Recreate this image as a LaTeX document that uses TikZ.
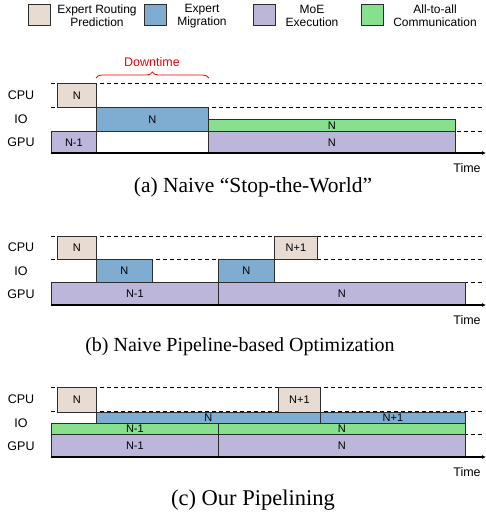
\documentclass[tikz,border=0pt]{standalone}
\usepackage{fontspec}
\setmainfont{Liberation Serif}
\setsansfont{Liberation Sans}
\usetikzlibrary{arrows.meta,decorations.pathreplacing}

\definecolor{routec}{RGB}{231,219,210}
\definecolor{migc}{RGB}{126,173,209}
\definecolor{moec}{RGB}{189,182,219}
\definecolor{a2ac}{RGB}{136,224,142}
\definecolor{edgec}{RGB}{45,45,45}

\tikzset{
  x=1pt, y=-1pt,
  blkbase/.style={draw=edgec, line width=0.8pt, inner sep=0pt, anchor=north west,
    font=\sffamily\fontsize{11}{11}\selectfont},
  route/.style={blkbase, fill=routec},
  mig/.style={blkbase, fill=migc},
  moe/.style={blkbase, fill=moec},
  a2a/.style={blkbase, fill=a2ac},
  idle/.style={blkbase, fill=white},
  legbox/.style={draw=edgec, line width=1pt, anchor=north west, minimum width=22pt, minimum height=21pt, inner sep=0pt},
  legtext/.style={font=\sffamily\fontsize{12}{13}\selectfont, align=center},
  rowlabel/.style={font=\sffamily\fontsize{12.5}{13}\selectfont},
  timelabel/.style={font=\sffamily\fontsize{12.5}{13}\selectfont},
  dashline/.style={dash pattern=on 4pt off 3pt, line width=0.7pt, black},
  axis/.style={line width=1.1pt, black, -{Latex[length=4pt,width=4pt]}},
  caption/.style={font=\fontsize{#1}{22}\selectfont},
  caption/.default=20,
}
% block: style, name, top-left corner, width, height, text
\newcommand\blk[6]{\node[#1, minimum width=#4pt, minimum height=#5pt] (#2) at #3 {#6};}

\begin{document}
\begin{tikzpicture}
\useasboundingbox (0,0) rectangle (485,514);

% ---------------- legend ----------------
\node[legbox, fill=routec] (lg1) at (28,4) {};
\node[legtext] (lt1) at (97,16) {Expert Routing\\Prediction};
\node[legbox, fill=migc] (lg2) at (144,4) {};
\node[legtext] (lt2) at (202,16) {Expert\\Migration};
\node[legbox, fill=moec] (lg3) at (253,4) {};
\node[legtext] (lt3) at (312,16) {MoE\\Execution};
\node[legbox, fill=a2ac] (lg4) at (361,4) {};
\node[legtext] (lt4) at (435,16) {All-to-all\\Communication};

% ---------------- (a) stop-the-world ----------------
\draw[dashline] (51,83) -- (485,83);
\draw[dashline] (51,107) -- (485,107);
\draw[dashline] (51,131) -- (485,131);
\blk{route}{a-cpu}{(57,83)}{39}{24}{N}
\blk{mig}{a-io}{(96,107)}{112}{24}{N}
\blk{moe}{a-gpu0}{(51,131)}{45}{22}{N-1}
\blk{idle}{a-idle}{(96,131)}{112}{22}{}
\blk{a2a}{a-a2a}{(208,119)}{247}{12}{N}
\blk{moe}{a-gpu1}{(208,131)}{247}{22}{N}
\coordinate (a-t0) at (51,153);
\coordinate (a-t1) at (486,153);
\draw[axis] (a-t0) -- (a-t1);
\node[rowlabel] (a-lcpu) at (21,95) {CPU};
\node[rowlabel] (a-lio) at (21,119) {IO};
\node[rowlabel] (a-lgpu) at (21,142) {GPU};
\node[timelabel] (a-time) at (467,168) {Time};
\draw[red, line width=0.8pt, decorate, decoration={brace, amplitude=6pt}]
  (a-io.north west |- 0,78) -- (a-io.north east |- 0,78);
\node[red, font=\sffamily\fontsize{12.5}{13}\selectfont] (a-down) at (152,62) {Downtime};
\node[caption=21.5] (a-cap) at (253,187) {(a) Naive ``Stop-the-World''};

% ---------------- (b) naive pipeline ----------------
\draw[dashline] (51,236) -- (485,236);
\draw[dashline] (51,259) -- (485,259);
\draw[dashline] (51,282) -- (485,282);
\blk{route}{b-cpu0}{(57,236)}{39}{23}{N}
\blk{mig}{b-io0}{(96,259)}{56}{23}{N}
\blk{moe}{b-gpu0}{(51,282)}{167}{23}{N-1}
\blk{mig}{b-io1}{(218,259)}{56}{23}{N}
\blk{route}{b-cpu1}{(274,236)}{43}{23}{N+1}
\blk{moe}{b-gpu1}{(218,282)}{247}{23}{N}
\coordinate (b-t0) at (51,305);
\coordinate (b-t1) at (486,305);
\draw[axis] (b-t0) -- (b-t1);
\node[rowlabel] (b-lcpu) at (21,247) {CPU};
\node[rowlabel] (b-lio) at (21,271) {IO};
\node[rowlabel] (b-lgpu) at (21,294) {GPU};
\node[timelabel] (b-time) at (467,320) {Time};
\node[caption] (b-cap) at (240,347) {(b) Naive Pipeline-based Optimization};

% ---------------- (c) our pipelining ----------------
\draw[dashline] (51,387) -- (485,387);
\draw[dashline] (51,411.5) -- (485,411.5);
\draw[dashline] (51,434) -- (485,434);
\blk{route}{c-cpu0}{(57,387)}{39}{24.5}{N}
\blk{route}{c-cpu1}{(278,387)}{42}{24.5}{N+1}
\blk{mig}{c-io0}{(96,411.5)}{224}{11.5}{N}
\blk{mig}{c-io1}{(320,411.5)}{145}{11.5}{N+1}
\blk{a2a}{c-a2a0}{(51,423)}{167}{11}{N-1}
\blk{a2a}{c-a2a1}{(218,423)}{247}{11}{N}
\blk{moe}{c-gpu0}{(51,434)}{167}{23}{N-1}
\blk{moe}{c-gpu1}{(218,434)}{247}{23}{N}
\coordinate (c-t0) at (51,457);
\coordinate (c-t1) at (486,457);
\draw[axis] (c-t0) -- (c-t1);
\node[rowlabel] (c-lcpu) at (21,399) {CPU};
\node[rowlabel] (c-lio) at (21,423) {IO};
\node[rowlabel] (c-lgpu) at (21,446) {GPU};
\node[timelabel] (c-time) at (467,472) {Time};
\node[caption=22.5] (c-cap) at (253,500) {(c) Our Pipelining};
\end{tikzpicture}
\end{document}
